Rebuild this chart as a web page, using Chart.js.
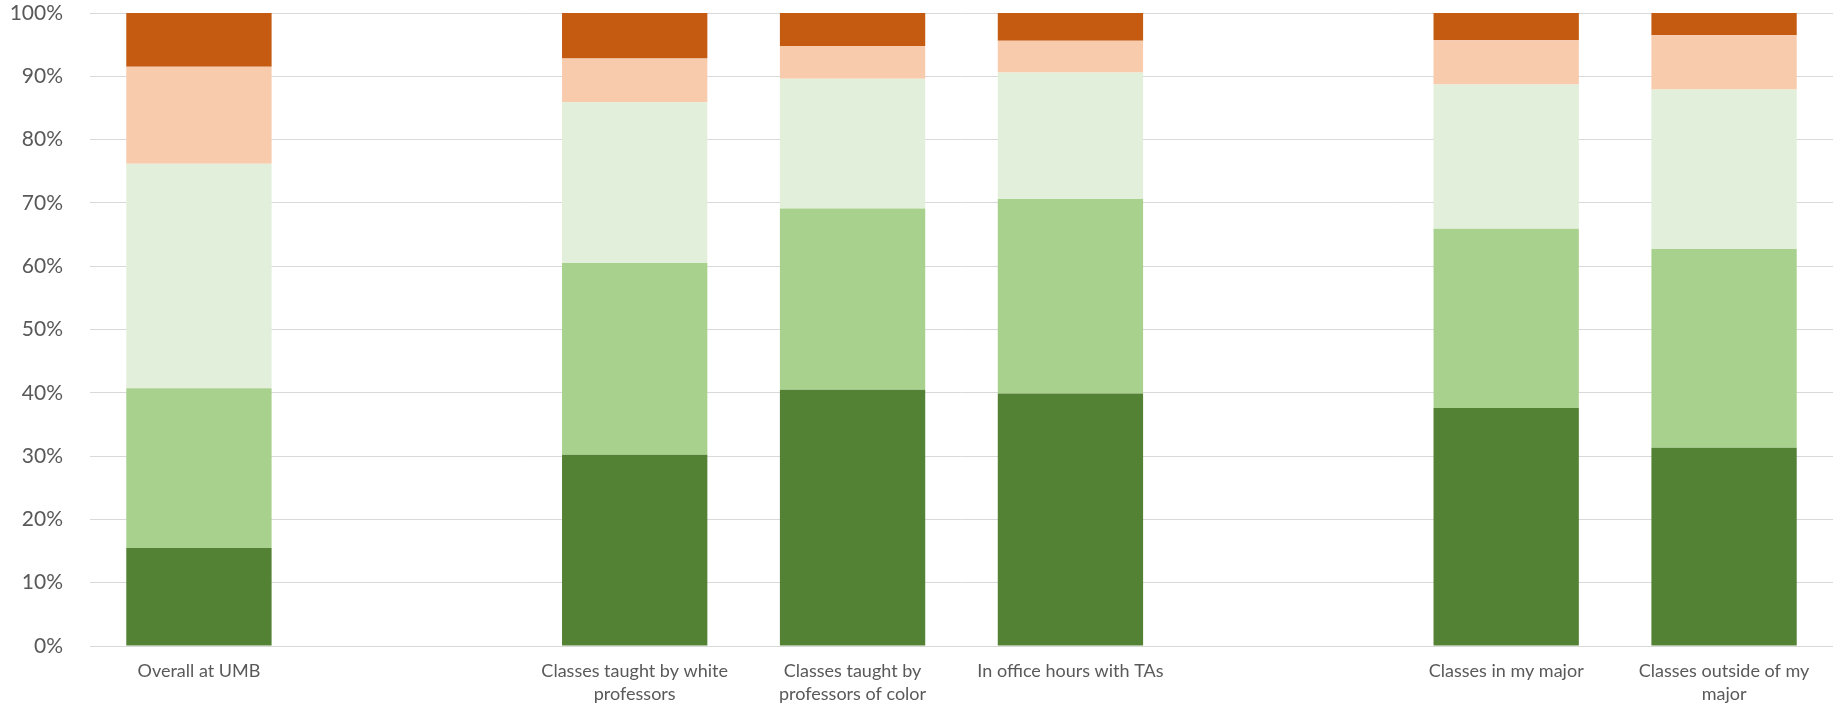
<!DOCTYPE html>
<html>
<head>
<meta charset="utf-8">
<script src="https://cdn.jsdelivr.net/npm/chart.js@4"></script>
<style>
  html, body { margin: 0; padding: 0; background: #fff; }
  #wrap { width: 1833px; height: 706px; }
</style>
</head>
<body>
<div id="wrap"><canvas id="chartcanvas" width="1833" height="706"></canvas></div>
<script>
// categories (empty slots are the gaps between groups)
var categories = [
    'Overall at UMB',
    '',
    ['Classes taught by white', 'professors'],
    ['Classes taught by', 'professors of color'],
    'In office hours with TAs',
    '',
    'Classes in my major',
    ['Classes outside of my', 'major']
];

// segment shares in %, bottom to top
var seriesNames = ['Always', 'Often', 'Sometimes', 'Rarely', 'Never'];
var always    = [15.5, null, 30.2, 40.5, 39.9, null, 37.6, 31.3];
var often     = [25.2, null, 30.3, 28.6, 30.7, null, 28.3, 31.4];
var sometimes = [35.5, null, 25.4, 20.5, 20.0, null, 22.8, 25.2];
var rarely    = [15.3, null,  6.9,  5.2,  5.0, null,  7.0,  8.6];
var never     = [ 8.5, null,  7.2,  5.2,  4.4, null,  4.3,  3.5];

var colors = ['#548235', '#a9d18e', '#e2efda', '#f8cbad', '#c55a11'];

var font = "Lato, 'Open Sans', sans-serif";

function makeSet(i, data) {
    return {
        label: seriesNames[i],
        data: data,
        backgroundColor: colors[i],
        borderWidth: 0,
        categoryPercentage: 1.0,
        barPercentage: 0.667,
    };
}

var ctx = document.getElementById('chartcanvas');
var chart = new Chart(ctx, {
    type: 'bar',
    data: {
        labels: categories,
        datasets: [
            makeSet(0, always),
            makeSet(1, often),
            makeSet(2, sometimes),
            makeSet(3, rarely),
            makeSet(4, never),
        ],
    },
    options: {
        responsive: false,
        animation: { duration: 0 },
        layout: { padding: 0 },
        plugins: {
            legend: { display: false },
            title: { display: false },
            tooltip: { enabled: false },
        },
        scales: {
            x: {
                stacked: true,
                grid: { display: false, drawTicks: false },
                border: { display: true, color: '#d9d9d9', width: 1 },
                afterFit: function(scale) { scale.height = 60; },
                ticks: {
                    color: '#595959',
                    font: { family: font, size: 18, lineHeight: 1.28 },
                    padding: 14,
                    maxRotation: 0,
                    autoSkip: false,
                },
            },
            y: {
                stacked: true,
                min: 0,
                max: 100,
                afterFit: function(scale) {
                    scale.width = 90;
                    scale.paddingTop = 13;
                    scale.paddingBottom = 0;
                },
                grid: { color: '#d9d9d9', lineWidth: 1, drawTicks: false },
                border: { display: false },
                ticks: {
                    stepSize: 10,
                    color: '#595959',
                    font: { family: font, size: 21 },
                    padding: 27,
                    callback: function(v) { return v + '%'; },
                },
            },
        },
    },
});
</script>
</body>
</html>
